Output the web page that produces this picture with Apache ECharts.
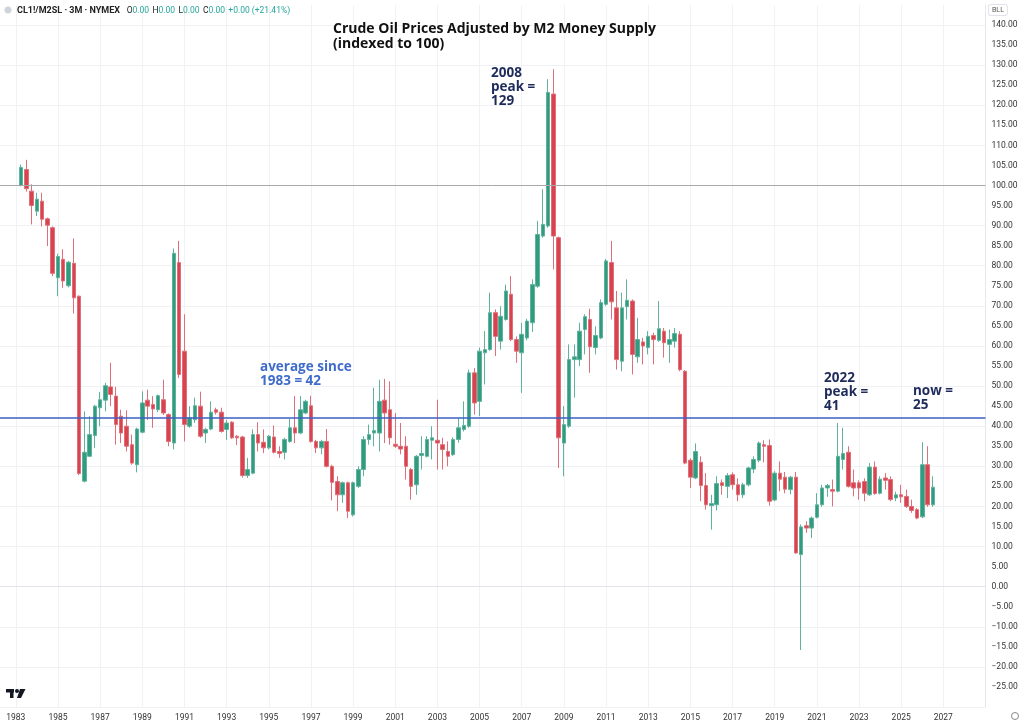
<!DOCTYPE html>
<html>
	<head>
		<meta charset="UTF-8">
		<script src="https://cdn.jsdelivr.net/npm/echarts/dist/echarts.min.js"></script>
		<style>
			body { margin: 0; background: #fff; }
			#chart { width: 1024px; height: 726px; }
		</style>
	</head>
	<body>
		<div id="chart"></div>
		<script type="text/javascript">
			// quarterly candles, 1983 Q2 .. 2026 Q3 (one row per year)
			var firstYear = 1983, firstQuarter = 2;
			var opens = [
				100, 104, 98.6,
				93.6, 96.1, 91.7, 89.5,
				77, 81.6, 75, 80.6,
				72.4, 26.3, 32.5, 37.7,
				44.6, 46.5, 49.8, 47.5,
				42.5, 40, 35.4, 30.4,
				38.5, 46.5, 45.4, 44.1,
				46.6, 42.9, 35.8, 80.8,
				58.7, 40, 41.6, 45,
				38.3, 39.3, 44.1, 43.5,
				39.2, 41, 37.5, 37.3,
				27.7, 28.3, 37.9, 36,
				34.6, 37.3, 33.7, 33.5,
				36.2, 39.6, 38.3, 43.3,
				45.1, 36.2, 34.6, 36.2,
				30, 26.2, 22.9, 25.9,
				17.9, 25, 29.2, 36.7,
				38.3, 38.3, 46.5, 44.1,
				35.5, 35, 35, 29.2,
				25.4, 32.7, 32.5, 36.5,
				36.5, 35.4, 33.7, 32.9,
				36.7, 39.2, 40, 53.3,
				46.2, 58.3, 59.1, 68.3,
				61.2, 66.6, 72.9, 61.6,
				58.3, 62, 65.8, 74.9,
				87.4, 89.9, 122.8, 87,
				35.8, 40, 56.6, 56.6,
				64.1, 66.6, 59.6, 62,
				70.4, 80.8, 69.5, 56.2,
				69.8, 71.2, 57.3, 61,
				59.6, 62.6, 61.4, 63.7,
				60.4, 61.2, 62.9, 53.7,
				31.5, 27.1, 31, 25.2,
				20.2, 20.4, 25.9, 25,
				27.9, 25.4, 22.9, 25.4,
				29.3, 31.5, 35.4, 35.2,
				21.6, 28.3, 27.3, 24.2,
				27.3, 8, 15.2, 14.6,
				17.3, 20.4, 24.6, 24.2,
				23.8, 31.7, 33.5, 25.9,
				25.9, 26.2, 22.9, 29.8,
				23.3, 27.1, 26.7, 22.1,
				22.9, 22.5, 20, 19.2,
				17.4, 30.4, 20.4
			];
			var closes = [
				104.5, 99.2, 95,
				96.6, 91.6, 90.1, 78.1,
				82.3, 76.2, 80.9, 72,
				28.2, 33.5, 37.9, 45,
				46.6, 50.1, 47.9, 40.4,
				38.3, 35, 30.8, 39.3,
				45.8, 45, 44.3, 47.6,
				43.3, 36.2, 83.1, 52.9,
				40.4, 42.1, 45.1, 37.5,
				39.2, 43.5, 43.5, 38.7,
				40.8, 37.1, 37.1, 27.7,
				29.2, 37.9, 35.8, 34.6,
				37.5, 33.5, 33.2, 36.7,
				39.6, 38.3, 44.1, 46.2,
				36.2, 34.6, 36.2, 30,
				26, 22.9, 25.9, 18.8,
				25.9, 29.2, 36.7, 37.9,
				38.9, 46.2, 43.3, 37.1,
				35, 34.3, 30, 25,
				32.5, 33.2, 36.7, 37.1,
				35.8, 34.2, 32.5, 36.7,
				39.6, 40.2, 53.3, 45.8,
				58.7, 59.1, 68.3, 62.4,
				67.4, 73.7, 61.6, 58.7,
				62.9, 66.2, 75.3, 87.8,
				90.3, 123.2, 87.4, 37.1,
				40.4, 56.6, 57.3, 63.7,
				67.3, 59.8, 62.6, 70.8,
				81.2, 71, 56.6, 69.5,
				71.4, 57.9, 61.6, 60,
				62.4, 61.6, 64.3, 60.8,
				61.6, 63.1, 54.1, 30.8,
				27.3, 33.7, 25.2, 20.4,
				20.7, 25.7, 25.2, 27.7,
				25.4, 22.9, 25.4, 29.6,
				31.7, 35.8, 35, 21.3,
				28.3, 26.8, 24.3, 27.3,
				8.4, 14.9, 14.6, 17.1,
				20.4, 24.6, 25.2, 23.8,
				32.5, 33.2, 25, 24.6,
				24.6, 23.3, 29.8, 23.2,
				26.8, 26.5, 21.7, 22.9,
				22.4, 20, 19, 17.1,
				30.4, 20.4, 24.8
			];
			var lows = [
				99.8, 98.5, 90.3,
				92.4, 89.8, 84.9, 77.4,
				72.4, 74.5, 74.6, 68.1,
				27.8, 26, 32.3, 34.6,
				40, 43.7, 45, 35.4,
				35.8, 33.7, 30.4, 28.5,
				38.2, 41.6, 39.6, 43.5,
				42.8, 35, 34.2, 52,
				36.2, 39.6, 40.8, 37.1,
				35.8, 39, 42.9, 38.4,
				36.6, 36.8, 35.3, 27.2,
				27.1, 28, 33.7, 33.3,
				34.2, 33.2, 32.1, 31.7,
				35.9, 35.8, 38, 43,
				35.9, 33.3, 33, 29.7,
				21.5, 18.8, 20.9, 17.1,
				17.5, 24.6, 27.5, 35.4,
				35, 33.7, 35.8, 35.4,
				34.6, 33, 26.7, 21.7,
				22.9, 29.2, 32.2, 31.7,
				29.2, 29.2, 30, 32.6,
				35.9, 38.7, 39.6, 42.9,
				42.5, 50.4, 58.8, 57.5,
				59.1, 66.3, 61.2, 55.8,
				48.3, 61.4, 63.5, 74.5,
				87, 89.5, 79.1, 29.6,
				27.5, 39.6, 47.1, 55,
				57.9, 53.3, 57.9, 61.7,
				70, 66.6, 54.1, 53.7,
				66.6, 52.9, 55.8, 55.4,
				57.9, 55.4, 61, 57.1,
				55.8, 59.6, 53.7, 30.5,
				24.6, 26.8, 21.3, 19.2,
				14.2, 19, 22.9, 22.1,
				24.2, 21.3, 22.1, 25,
				28.3, 31, 31, 20.2,
				21.3, 23.8, 23.3, 23,
				8.2, -15.8, 13.4, 12.1,
				17, 19.9, 22.4, 20,
				23.5, 29.2, 24.7, 22.5,
				21.7, 21.3, 22.6, 22.9,
				23, 24.2, 21.3, 21.3,
				20.9, 19.6, 18.4, 16.8,
				17.1, 19.9, 19.9
			];
			var highs = [
				105.2, 106.4, 100.3,
				98.2, 98.2, 92, 89.8,
				83, 84.1, 81.2, 86.8,
				72.6, 43.7, 42.5, 45.3,
				48.5, 50.8, 55.8, 49.8,
				44.1, 44, 37.9, 39.6,
				48.7, 49.1, 47.5, 47.9,
				51.6, 43.2, 84.3, 86.2,
				67.9, 45, 47.1, 48.6,
				39.6, 46.2, 44.6, 44.6,
				41.6, 41.3, 37.8, 37.6,
				32.1, 39.2, 41, 39.2,
				37.8, 40.2, 35, 37.1,
				41.8, 47.5, 47.5, 46.6,
				47.6, 36.6, 36.6, 39.3,
				30.4, 27.5, 26.2, 26.2,
				26.2, 30, 37.5, 40.4,
				49.6, 51.6, 51.8, 51.2,
				43.3, 40.8, 37.5, 29.6,
				32.8, 37.5, 37.5, 40,
				46.6, 37.1, 36.2, 37.2,
				42, 46.2, 54.1, 54.5,
				59.6, 63.7, 73.3, 69.1,
				69.9, 75.3, 77.4, 62.4,
				65.8, 66.8, 76.6, 91.2,
				99.1, 126.5, 129, 87.3,
				45, 60.4, 60.4, 65.8,
				67.9, 69.3, 64.9, 71.6,
				81.7, 86.2, 73.7, 73.3,
				76.6, 71.6, 67, 62,
				63.7, 63.3, 71.2, 64.5,
				64.1, 64.5, 63.7, 54,
				32, 35.7, 32.5, 28.3,
				22.9, 27.5, 26.7, 28.3,
				28.5, 27, 25.9, 29.9,
				32.5, 36.2, 36.5, 36.7,
				28.8, 31.2, 28.6, 27.6,
				28.6, 15.5, 16.3, 17.5,
				23.3, 25.4, 25.6, 26.7,
				40.8, 39.6, 35, 29.2,
				26.5, 27, 30.8, 31.2,
				27.5, 28.3, 27.5, 23.7,
				25.4, 24.2, 21.7, 19.6,
				36, 35, 27.5
			];
			var baseLevel = 100;
			var averageLevel = 42;
			var lastLabelYear = 2027;

			// time scale: quarters from 1982 Q2 to 2029 Q1, year labels every 2 years
			var quarters = [];
			for(var y = 1982; y <= 2029; y++) {
				for(var q = 1; q <= 4; q++) {
					if(y == 1982 && q == 1) continue;
					if(y == 2029 && q > 1) continue;
					quarters.push(y + ' Q' + q);
				}
			}
			function isYearTick(index) {
				var parts = quarters[index].split(' Q');
				var yr = parseInt(parts[0]);
				return parts[1] == '1' && (yr - 1983) % 2 == 0 && yr <= lastLabelYear;
			}

			var startIndex = quarters.indexOf(firstYear + ' Q' + firstQuarter);
			var candles = [];
			for(var i = 0; i < opens.length; i++) {
				candles.push([startIndex + i, opens[i], closes[i], lows[i], highs[i]]);
			}

			var upColor = '#2f9c80';
			var downColor = '#d9434f';
			var upWick = '#5fb29c';
			var downWick = '#df6f78';
			var navy = '#1d2a5a';
			var annFont = 'bold 13.5px "Open Sans", "Noto Sans", sans-serif';
			var titleFont = 'bold 14px "Open Sans", "Noto Sans", sans-serif';

			// one graphic text per line, top positions in px
			var graphics = [];
			function addLines(x, tops, lines, font, color) {
				for(var k = 0; k < lines.length; k++) {
					graphics.push({
						type: 'text', x: x, y: tops[k], z: 100,
						style: { text: lines[k], font: font, fill: color }
					});
				}
			}
			addLines(333, [22, 37], ['Crude Oil Prices Adjusted by M2 Money Supply', '(indexed to 100)'], titleFont, '#111');
			addLines(491, [66, 80, 94], ['2008', 'peak =', '129'], annFont, navy);
			addLines(260, [360, 374], ['average since', '1983 = 42'], annFont, '#3f6ccb');
			addLines(824, [371, 385, 399], ['2022', 'peak =', '41'], annFont, navy);
			addLines(913, [384, 398], ['now =', '25'], annFont, navy);

			// header line
			graphics.push({ type: 'circle', z: 100, shape: { cx: 8, cy: 10, r: 3.5 }, style: { fill: '#cfd3da' } });
			graphics.push({
				type: 'text', x: 17, y: 5, z: 100,
				style: {
					text: '{s|CL1!/M2SL \u00b7 3M \u00b7 NYMEX}  {k|O}{v|0.00} {k|H}{v|0.00} {k|L}{v|0.00} {k|C}{v|0.00} {v|+0.00 (+21.41%)}',
					rich: {
						s: { font: 'bold 9px Roboto, sans-serif', fill: '#222' },
						k: { font: '8.5px Roboto, sans-serif', fill: '#222' },
						v: { font: '8.5px Roboto, sans-serif', fill: '#26a69a' }
					}
				}
			});
			// currency box
			graphics.push({
				type: 'text', x: 989, y: 5, z: 100,
				style: {
					text: 'BLL', font: '7px Roboto, sans-serif', fill: '#555',
					borderColor: '#e0e3eb', borderWidth: 1, borderRadius: 2,
					padding: [2, 3, 1, 3], backgroundColor: '#fff'
				}
			});
			// logo
			graphics.push({ type: 'rect', z: 100, shape: { x: 6, y: 689, width: 8, height: 3.5 }, style: { fill: '#131722' } });
			graphics.push({ type: 'rect', z: 100, shape: { x: 10, y: 689, width: 3.5, height: 9 }, style: { fill: '#131722' } });
			graphics.push({ type: 'circle', z: 100, shape: { cx: 17, cy: 691, r: 2 }, style: { fill: '#131722' } });
			graphics.push({ type: 'polygon', z: 100, shape: { points: [[20, 689], [25.5, 689], [21, 698], [17, 698]] }, style: { fill: '#131722' } });
			// settings icon
			graphics.push({ type: 'circle', z: 100, shape: { cx: 1015, cy: 716, r: 3.5 }, style: { fill: 'none', stroke: '#888', lineWidth: 1 } });

			var myChart = echarts.init(document.getElementById('chart'));
			var option = {
				animation: false,
				backgroundColor: '#ffffff',
				grid: { left: 0, right: 38.5, top: 5, bottom: 19 },
				xAxis: {
					type: 'category',
					data: quarters,
					boundaryGap: false,
					axisLine: { show: true, lineStyle: { color: '#e0e3eb' } },
					axisTick: { show: false },
					axisLabel: {
						interval: function(index) { return isYearTick(index); },
						formatter: function(v) { return v.split(' ')[0]; },
						color: '#333',
						fontSize: 8.5,
						fontFamily: 'Roboto, sans-serif',
						margin: 6
					},
					splitLine: {
						show: true,
						interval: function(index) { return isYearTick(index); },
						lineStyle: { color: '#f0f2f5', width: 1 }
					}
				},
				yAxis: {
					type: 'value',
					position: 'right',
					min: -30,
					max: 145,
					interval: 5,
					axisLine: { show: true, lineStyle: { color: '#e6e8ee' } },
					axisTick: { show: false },
					axisLabel: {
						showMinLabel: false,
						showMaxLabel: false,
						color: '#333',
						fontSize: 8.5,
						fontFamily: 'Roboto, sans-serif',
						margin: 6,
						formatter: function(v) {
							return (v < 0 ? '\u2212' : '') + Math.abs(v).toFixed(2);
						}
					},
					splitLine: {
						show: true,
						lineStyle: { color: ['#eff1f5', 'rgba(0,0,0,0)'], width: 1 }
					}
				},
				series: [{
					type: 'candlestick',
					data: candles,
					encode: { x: 0, y: [1, 2, 3, 4] },
					barWidth: 4,
					itemStyle: {
						color: upColor,
						color0: downColor,
						borderColor: upWick,
						borderColor0: downWick,
						borderWidth: 1
					},
					markLine: {
						silent: true,
						symbol: ['none', 'none'],
						label: { show: false },
						data: [
							{ yAxis: baseLevel, lineStyle: { color: '#a8a8a8', width: 1, type: 'solid' } },
							{ yAxis: averageLevel, lineStyle: { color: '#3e5fc6', width: 1.5, type: 'solid' } }
						]
					}
				}],
				graphic: graphics
			};
			myChart.setOption(option);
		</script>
	</body>
</html>
